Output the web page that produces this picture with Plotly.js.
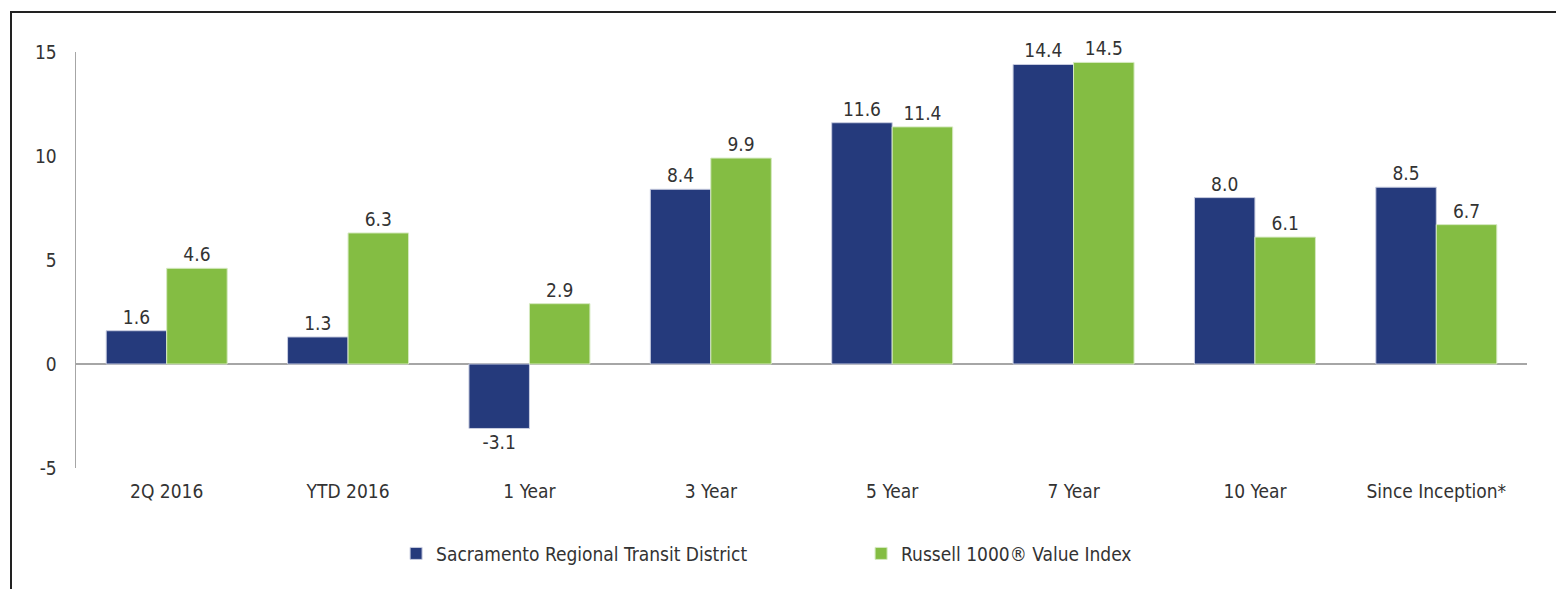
<!DOCTYPE html>
<html>
<head>
<meta charset="utf-8">
<script src="https://cdn.plot.ly/plotly-3.0.1.min.js"></script>
<style>
  body { margin: 0; background: #fff; overflow: hidden; }
  #plot { position: absolute; left: 0; top: 0; width: 1556px; height: 589px; }
  #frame { position: absolute; left: 10px; top: 11px; width: 1600px; height: 700px;
           border-left: 2px solid #222; border-top: 2px solid #222; pointer-events: none; }
</style>
</head>
<body>
<div id="plot"></div>
<div id="frame"></div>
<script>
// periods on the x axis
var periods = ["2Q 2016", "YTD 2016", "1 Year", "3 Year", "5 Year", "7 Year", "10 Year", "Since Inception*"];

// returns, percent
var sacrt = [1.6, 1.3, -3.1, 8.4, 11.6, 14.4, 8.0, 8.5];
var russell = [4.6, 6.3, 2.9, 9.9, 11.4, 14.5, 6.1, 6.7];

var yTicks = [-5, 0, 5, 10, 15];
var yTickText = ["-5", "0", "5", "10", "15"];

var font = "'Liberation Sans Narrow', 'DejaVu Sans Condensed', 'Roboto', sans-serif";

function labels(arr) {
    return arr.map(function (v) { return v.toFixed(1); });
}

var trace1 = {
    x: periods,
    y: sacrt,
    type: "bar",
    name: "Sacramento Regional Transit District",
    marker: { color: "#253a7c", line: { color: "#c9cde0", width: 1 } },
    text: labels(sacrt),
    textposition: "outside",
    cliponaxis: false,
    textfont: { family: font, size: 19, color: "#333" },
    hoverinfo: "x+y"
};

var trace2 = {
    x: periods,
    y: russell,
    type: "bar",
    name: "Russell 1000® Value Index",
    marker: { color: "#84bd43", line: { color: "#d5e9c0", width: 1 } },
    text: labels(russell),
    textposition: "outside",
    cliponaxis: false,
    textfont: { family: font, size: 19, color: "#333" },
    hoverinfo: "x+y"
};

var layout = {
    width: 1556,
    height: 589,
    margin: { l: 76, r: 29, t: 52, b: 121 },
    paper_bgcolor: "#fff",
    plot_bgcolor: "#fff",
    font: { family: font, size: 19, color: "#333" },
    barmode: "group",
    bargap: 0.333,
    bargroupgap: 0,
    showlegend: true,
    legend: {
        orientation: "h",
        x: 0.2206,
        xanchor: "left",
        y: -0.16,
        yanchor: "top",
        font: { family: font, size: 19, color: "#333" },
        itemwidth: 30,
        tracegroupgap: 0,
        entrywidth: 420
    },
    xaxis: {
        showline: false,
        showgrid: false,
        ticks: "",
        ticklabelstandoff: 10,
        tickfont: { family: font, size: 19, color: "#333" }
    },
    yaxis: {
        range: [-5, 15],
        tickvals: yTicks,
        ticktext: yTickText,
        showgrid: false,
        showline: true,
        linecolor: "#a6a6a6",
        linewidth: 1.5,
        zeroline: true,
        zerolinecolor: "#a6a6a6",
        zerolinewidth: 2,
        ticks: "",
        ticklabelstandoff: 14,
        tickfont: { family: font, size: 19, color: "#333" }
    }
};

Plotly.newPlot("plot", [trace1, trace2], layout, { displayModeBar: false, staticPlot: true });
</script>
</body>
</html>
